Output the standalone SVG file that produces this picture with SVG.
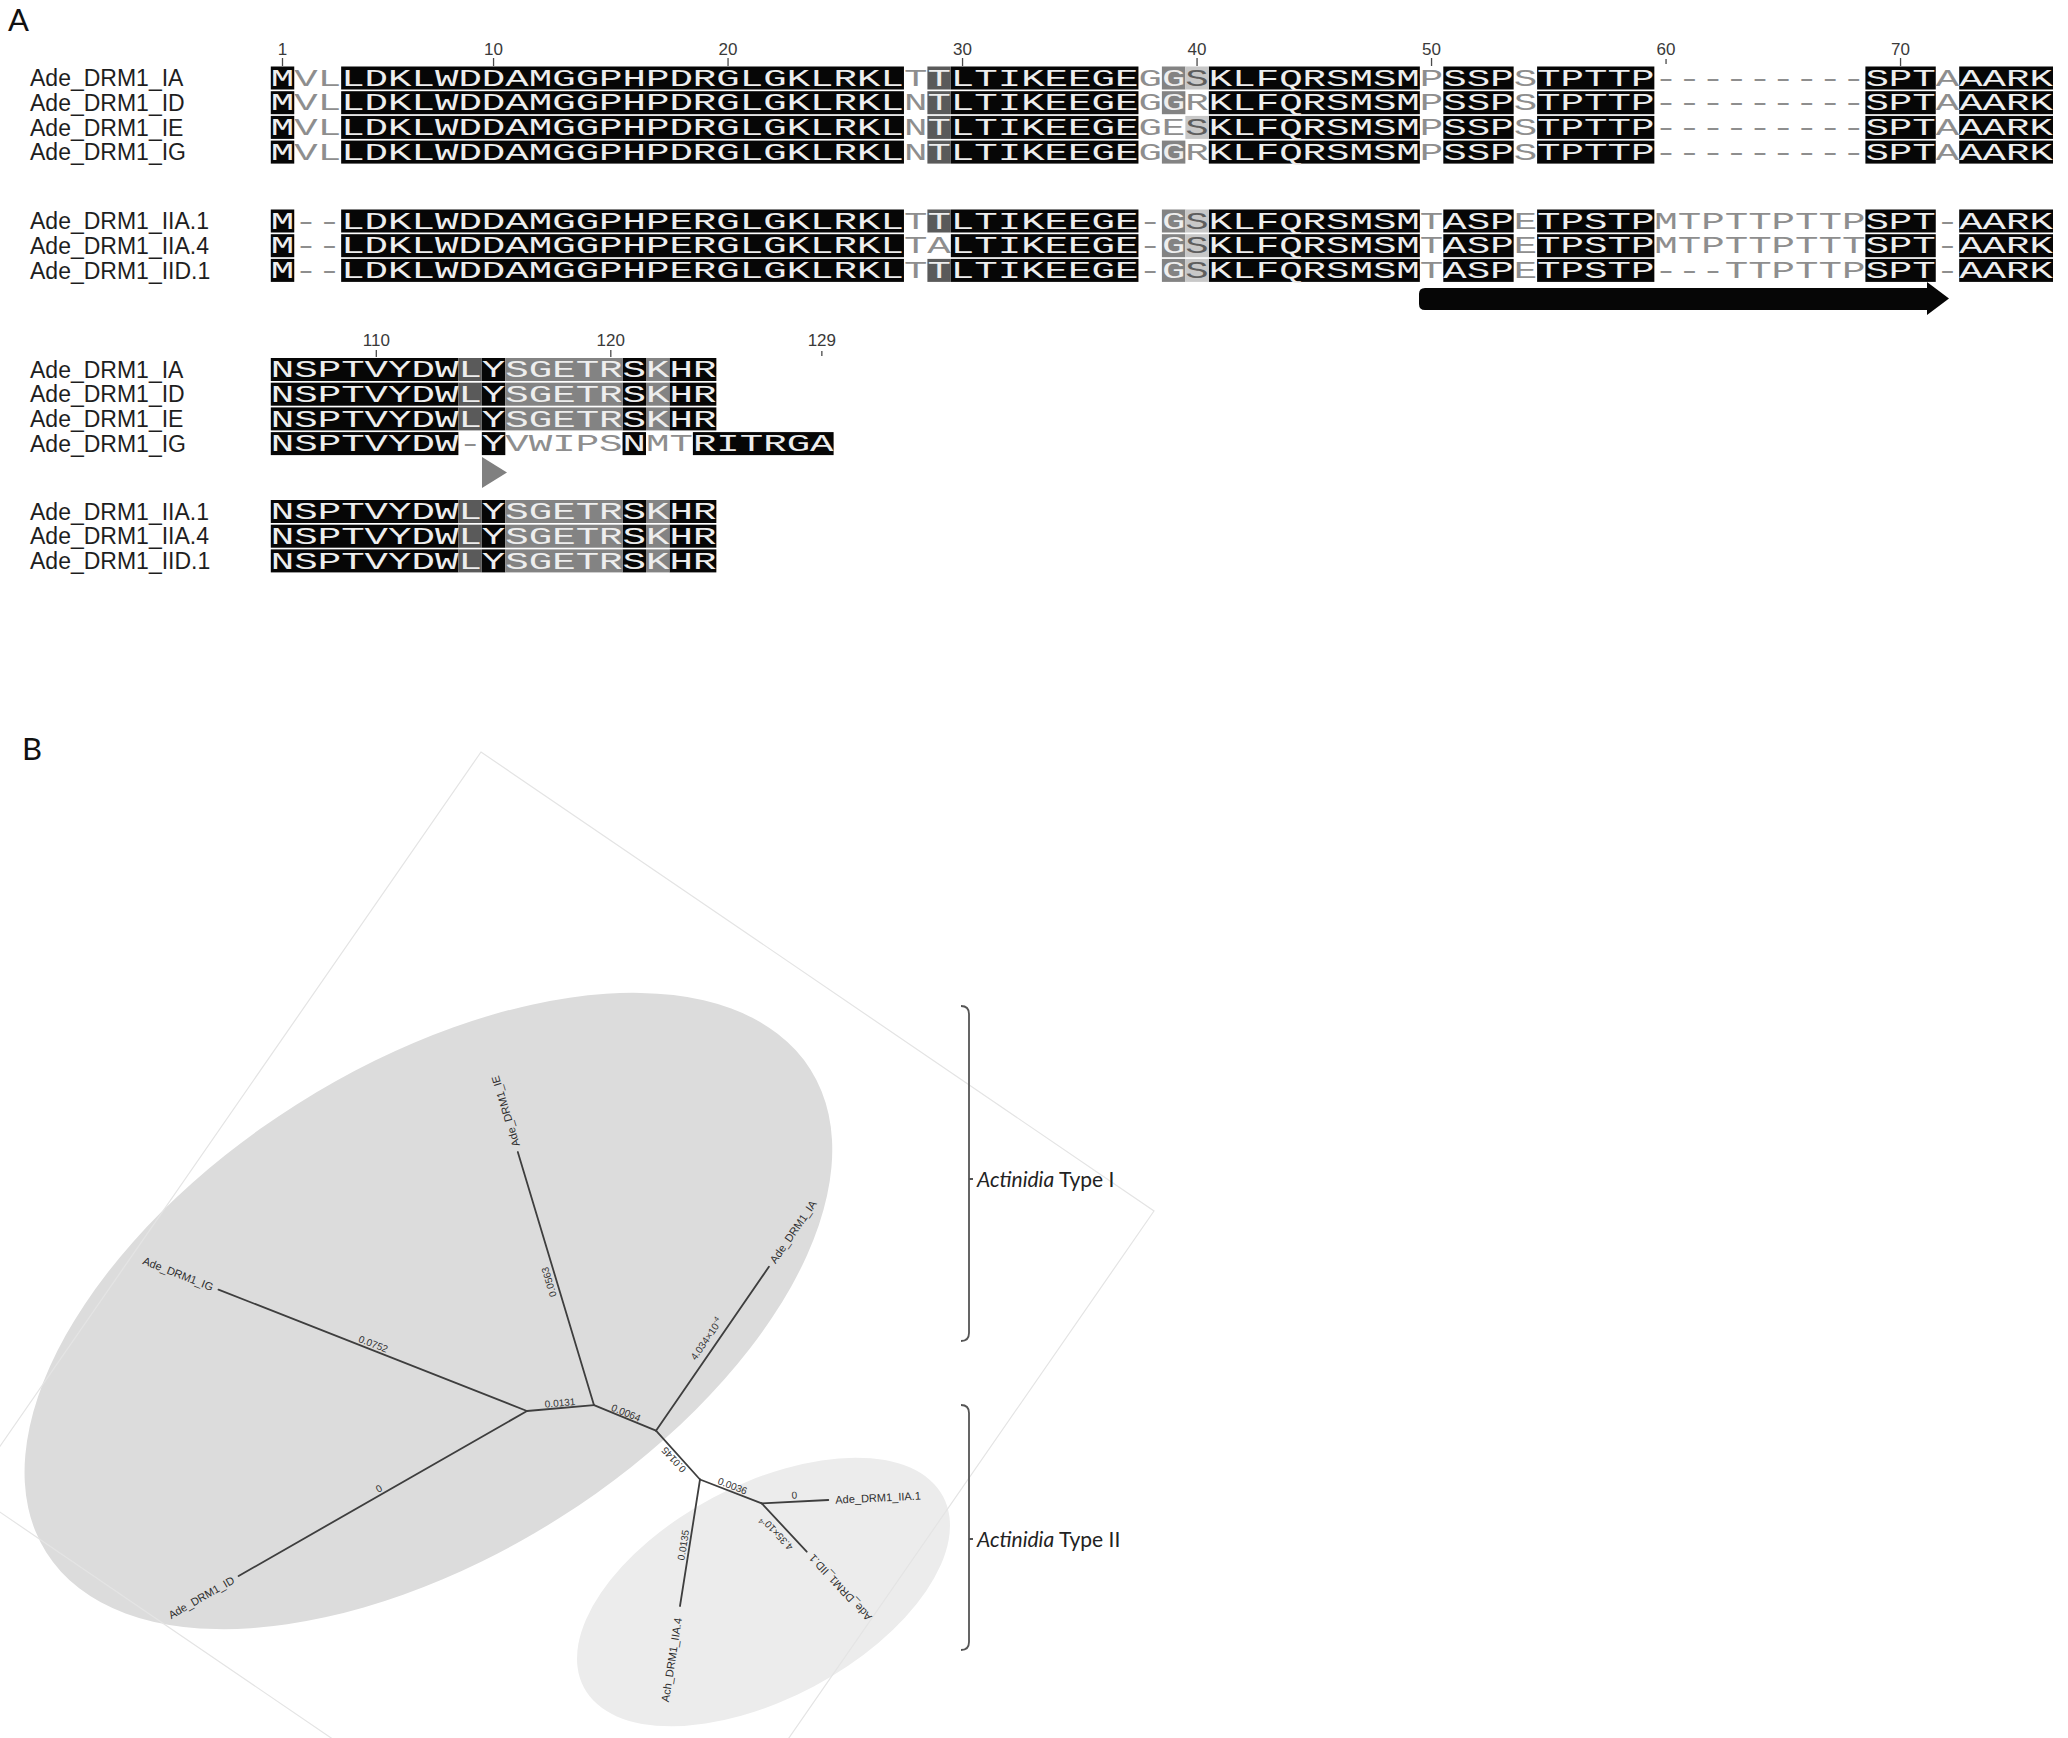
<svg xmlns="http://www.w3.org/2000/svg" width="2068" height="1738" viewBox="0 0 2068 1738">
<style>
.nm{font-family:"Liberation Sans",Arial,sans-serif;font-size:23px;fill:#1e1e1e}
.sq{font-family:"Liberation Mono","DejaVu Sans Mono",monospace;font-size:23px}
.w{fill:#eeeeee}
.n{fill:#8e8e8e}
.k{fill:#5e5e5e}
.bk{fill:#060606}
.dg{fill:#5a5a5a}
.gr{fill:#838383}
.lg{fill:#c8c8c8}
.tk{font-family:"Liberation Sans",Arial,sans-serif;font-size:17px;fill:#3a3a3a;text-anchor:middle}
.tm{stroke:#4a4a4a;stroke-width:1.3}
.pl{font-family:Lato,"Liberation Sans",sans-serif;font-size:31px;fill:#111}
.lf{font-family:"Liberation Sans",Arial,sans-serif;font-size:11px;fill:#2e2e2e;dominant-baseline:central}
.bl{font-family:"Liberation Sans",Arial,sans-serif;font-size:10px;fill:#333;text-anchor:middle;dominant-baseline:central}
.grp{font-family:Lato,"Open Sans",sans-serif;font-size:21px;fill:#222}
.bkt{fill:none;stroke:#555;stroke-width:1.8}
</style>
<defs>
<g id="bkRow" class="bk">
<rect x="270.8" y="-11.5" width="23.45" height="23"/>
<rect x="341.15" y="-11.5" width="562.8" height="23"/>
<rect x="950.85" y="-11.5" width="187.6" height="23"/>
<rect x="1208.8" y="-11.5" width="211.05" height="23"/>
<rect x="1443.3" y="-11.5" width="70.35" height="23"/>
<rect x="1537.1" y="-11.5" width="117.25" height="23"/>
<rect x="1865.4" y="-11.5" width="70.35" height="23"/>
<rect x="1959.2" y="-11.5" width="93.8" height="23"/>
</g>
<rect id="c29" class="dg" x="927.4" y="-11.5" width="23.45" height="23"/>
<rect id="c39" class="gr" x="1161.9" y="-11.5" width="23.45" height="23"/>
<rect id="c40" class="lg" x="1185.35" y="-11.5" width="23.45" height="23"/>
<text id="kS" class="sq k" x="1185.35" y="7.6" textLength="23.45" lengthAdjust="spacingAndGlyphs">S</text>
<g id="wI" class="sq w">
<text x="270.8" y="7.6" textLength="23.45" lengthAdjust="spacingAndGlyphs">M</text>
<text x="341.15" y="7.6" textLength="562.8" lengthAdjust="spacingAndGlyphs">LDKLWDDAMGGPHPDRGLGKLRKL</text>
<text x="927.4" y="7.6" textLength="211.05" lengthAdjust="spacingAndGlyphs">TLTIKEEGE</text>
<text x="1161.9" y="7.6" textLength="23.45" lengthAdjust="spacingAndGlyphs">G</text>
<text x="1208.8" y="7.6" textLength="211.05" lengthAdjust="spacingAndGlyphs">KLFQRSMSM</text>
<text x="1443.3" y="7.6" textLength="70.35" lengthAdjust="spacingAndGlyphs">SSP</text>
<text x="1537.1" y="7.6" textLength="117.25" lengthAdjust="spacingAndGlyphs">TPTTP</text>
<text x="1865.4" y="7.6" textLength="70.35" lengthAdjust="spacingAndGlyphs">SPT</text>
<text x="1959.2" y="7.6" textLength="93.8" lengthAdjust="spacingAndGlyphs">AARK</text>
</g>
<g id="wIE" class="sq w">
<text x="270.8" y="7.6" textLength="23.45" lengthAdjust="spacingAndGlyphs">M</text>
<text x="341.15" y="7.6" textLength="562.8" lengthAdjust="spacingAndGlyphs">LDKLWDDAMGGPHPDRGLGKLRKL</text>
<text x="927.4" y="7.6" textLength="211.05" lengthAdjust="spacingAndGlyphs">TLTIKEEGE</text>
<text x="1208.8" y="7.6" textLength="211.05" lengthAdjust="spacingAndGlyphs">KLFQRSMSM</text>
<text x="1443.3" y="7.6" textLength="70.35" lengthAdjust="spacingAndGlyphs">SSP</text>
<text x="1537.1" y="7.6" textLength="117.25" lengthAdjust="spacingAndGlyphs">TPTTP</text>
<text x="1865.4" y="7.6" textLength="70.35" lengthAdjust="spacingAndGlyphs">SPT</text>
<text x="1959.2" y="7.6" textLength="93.8" lengthAdjust="spacingAndGlyphs">AARK</text>
</g>
<g id="wII" class="sq w">
<text x="270.8" y="7.6" textLength="23.45" lengthAdjust="spacingAndGlyphs">M</text>
<text x="341.15" y="7.6" textLength="562.8" lengthAdjust="spacingAndGlyphs">LDKLWDDAMGGPHPERGLGKLRKL</text>
<text x="927.4" y="7.6" textLength="211.05" lengthAdjust="spacingAndGlyphs">TLTIKEEGE</text>
<text x="1161.9" y="7.6" textLength="23.45" lengthAdjust="spacingAndGlyphs">G</text>
<text x="1208.8" y="7.6" textLength="211.05" lengthAdjust="spacingAndGlyphs">KLFQRSMSM</text>
<text x="1443.3" y="7.6" textLength="70.35" lengthAdjust="spacingAndGlyphs">ASP</text>
<text x="1537.1" y="7.6" textLength="117.25" lengthAdjust="spacingAndGlyphs">TPSTP</text>
<text x="1865.4" y="7.6" textLength="70.35" lengthAdjust="spacingAndGlyphs">SPT</text>
<text x="1959.2" y="7.6" textLength="93.8" lengthAdjust="spacingAndGlyphs">AARK</text>
</g>
<g id="wIIA4" class="sq w">
<text x="270.8" y="7.6" textLength="23.45" lengthAdjust="spacingAndGlyphs">M</text>
<text x="341.15" y="7.6" textLength="562.8" lengthAdjust="spacingAndGlyphs">LDKLWDDAMGGPHPERGLGKLRKL</text>
<text x="950.85" y="7.6" textLength="187.6" lengthAdjust="spacingAndGlyphs">LTIKEEGE</text>
<text x="1161.9" y="7.6" textLength="23.45" lengthAdjust="spacingAndGlyphs">G</text>
<text x="1208.8" y="7.6" textLength="211.05" lengthAdjust="spacingAndGlyphs">KLFQRSMSM</text>
<text x="1443.3" y="7.6" textLength="70.35" lengthAdjust="spacingAndGlyphs">ASP</text>
<text x="1537.1" y="7.6" textLength="117.25" lengthAdjust="spacingAndGlyphs">TPSTP</text>
<text x="1865.4" y="7.6" textLength="70.35" lengthAdjust="spacingAndGlyphs">SPT</text>
<text x="1959.2" y="7.6" textLength="93.8" lengthAdjust="spacingAndGlyphs">AARK</text>
</g>
<g id="bk2" class="bk">
<rect x="270.8" y="-11.5" width="187.6" height="23"/>
<rect x="481.85" y="-11.5" width="23.45" height="23"/>
<rect x="622.55" y="-11.5" width="23.45" height="23"/>
<rect x="669.45" y="-11.5" width="46.9" height="23"/>
</g>
<g id="sh2">
<rect class="dg" x="458.4" y="-11.5" width="23.45" height="23"/>
<rect class="gr" x="505.3" y="-11.5" width="117.25" height="23"/>
<rect class="gr" x="646" y="-11.5" width="23.45" height="23"/>
</g>
<text id="w2" class="sq w" x="270.8" y="7.6" textLength="445.55" lengthAdjust="spacingAndGlyphs">NSPTVYDWLYSGETRSKHR</text>
</defs>

<rect width="2068" height="1738" fill="#ffffff"/>

<g id="panel-A">
<text class="pl" x="8" y="31">A</text>

<g id="ruler-1">
<g class="tm">
<line x1="282.5" y1="58" x2="282.5" y2="66"/>
<line x1="493.55" y1="58" x2="493.55" y2="66"/>
<line x1="728.05" y1="58" x2="728.05" y2="66"/>
<line x1="962.55" y1="58" x2="962.55" y2="66"/>
<line x1="1197.05" y1="58" x2="1197.05" y2="66"/>
<line x1="1431.55" y1="58" x2="1431.55" y2="66"/>
<line x1="1666.05" y1="59" x2="1666.05" y2="64"/>
<line x1="1900.55" y1="58" x2="1900.55" y2="66"/>
</g>
<text class="tk" x="282.5" y="55">1</text>
<text class="tk" x="493.55" y="55">10</text>
<text class="tk" x="728.05" y="55">20</text>
<text class="tk" x="962.55" y="55">30</text>
<text class="tk" x="1197.05" y="55">40</text>
<text class="tk" x="1431.55" y="55">50</text>
<text class="tk" x="1666.05" y="55">60</text>
<text class="tk" x="1900.55" y="55">70</text>
</g>

<g id="seq1-IA">
<text class="nm" x="30" y="86.2">Ade_DRM1_IA</text>
<use href="#bkRow" y="78"/><use href="#c29" y="78"/><use href="#c39" y="78"/><use href="#c40" y="78"/>
<use href="#wI" y="78"/><use href="#kS" y="78"/>
<g class="sq n">
<text x="294.25" y="85.6" textLength="46.9" lengthAdjust="spacingAndGlyphs">VL</text>
<text x="903.95" y="85.6" textLength="23.45" lengthAdjust="spacingAndGlyphs">T</text>
<text x="1138.45" y="85.6" textLength="23.45" lengthAdjust="spacingAndGlyphs">G</text>
<text x="1419.85" y="85.6" textLength="23.45" lengthAdjust="spacingAndGlyphs">P</text>
<text x="1513.65" y="85.6" textLength="23.45" lengthAdjust="spacingAndGlyphs">S</text>
<text x="1654.35" y="85.6" textLength="211.05" lengthAdjust="spacingAndGlyphs">---------</text>
<text x="1935.75" y="85.6" textLength="23.45" lengthAdjust="spacingAndGlyphs">A</text>
</g>
</g>

<g id="seq1-ID">
<text class="nm" x="30" y="110.9">Ade_DRM1_ID</text>
<use href="#bkRow" y="102.7"/><use href="#c29" y="102.7"/><use href="#c39" y="102.7"/>
<use href="#wI" y="102.7"/>
<g class="sq n">
<text x="294.25" y="110.3" textLength="46.9" lengthAdjust="spacingAndGlyphs">VL</text>
<text x="903.95" y="110.3" textLength="23.45" lengthAdjust="spacingAndGlyphs">N</text>
<text x="1138.45" y="110.3" textLength="23.45" lengthAdjust="spacingAndGlyphs">G</text>
<text x="1185.35" y="110.3" textLength="23.45" lengthAdjust="spacingAndGlyphs">R</text>
<text x="1419.85" y="110.3" textLength="23.45" lengthAdjust="spacingAndGlyphs">P</text>
<text x="1513.65" y="110.3" textLength="23.45" lengthAdjust="spacingAndGlyphs">S</text>
<text x="1654.35" y="110.3" textLength="211.05" lengthAdjust="spacingAndGlyphs">---------</text>
<text x="1935.75" y="110.3" textLength="23.45" lengthAdjust="spacingAndGlyphs">A</text>
</g>
</g>

<g id="seq1-IE">
<text class="nm" x="30" y="135.6">Ade_DRM1_IE</text>
<use href="#bkRow" y="127.4"/><use href="#c29" y="127.4"/><use href="#c40" y="127.4"/>
<use href="#wIE" y="127.4"/><use href="#kS" y="127.4"/>
<g class="sq n">
<text x="294.25" y="135" textLength="46.9" lengthAdjust="spacingAndGlyphs">VL</text>
<text x="903.95" y="135" textLength="23.45" lengthAdjust="spacingAndGlyphs">N</text>
<text x="1138.45" y="135" textLength="46.9" lengthAdjust="spacingAndGlyphs">GE</text>
<text x="1419.85" y="135" textLength="23.45" lengthAdjust="spacingAndGlyphs">P</text>
<text x="1513.65" y="135" textLength="23.45" lengthAdjust="spacingAndGlyphs">S</text>
<text x="1654.35" y="135" textLength="211.05" lengthAdjust="spacingAndGlyphs">---------</text>
<text x="1935.75" y="135" textLength="23.45" lengthAdjust="spacingAndGlyphs">A</text>
</g>
</g>

<g id="seq1-IG">
<text class="nm" x="30" y="160.3">Ade_DRM1_IG</text>
<use href="#bkRow" y="152.1"/><use href="#c29" y="152.1"/><use href="#c39" y="152.1"/>
<use href="#wI" y="152.1"/>
<g class="sq n">
<text x="294.25" y="159.7" textLength="46.9" lengthAdjust="spacingAndGlyphs">VL</text>
<text x="903.95" y="159.7" textLength="23.45" lengthAdjust="spacingAndGlyphs">N</text>
<text x="1138.45" y="159.7" textLength="23.45" lengthAdjust="spacingAndGlyphs">G</text>
<text x="1185.35" y="159.7" textLength="23.45" lengthAdjust="spacingAndGlyphs">R</text>
<text x="1419.85" y="159.7" textLength="23.45" lengthAdjust="spacingAndGlyphs">P</text>
<text x="1513.65" y="159.7" textLength="23.45" lengthAdjust="spacingAndGlyphs">S</text>
<text x="1654.35" y="159.7" textLength="211.05" lengthAdjust="spacingAndGlyphs">---------</text>
<text x="1935.75" y="159.7" textLength="23.45" lengthAdjust="spacingAndGlyphs">A</text>
</g>
</g>

<g id="seq1-IIA1">
<text class="nm" x="30" y="229.2">Ade_DRM1_IIA.1</text>
<use href="#bkRow" y="221"/><use href="#c29" y="221"/><use href="#c39" y="221"/><use href="#c40" y="221"/>
<use href="#wII" y="221"/><use href="#kS" y="221"/>
<g class="sq n">
<text x="294.25" y="228.6" textLength="46.9" lengthAdjust="spacingAndGlyphs">--</text>
<text x="903.95" y="228.6" textLength="23.45" lengthAdjust="spacingAndGlyphs">T</text>
<text x="1138.45" y="228.6" textLength="23.45" lengthAdjust="spacingAndGlyphs">-</text>
<text x="1419.85" y="228.6" textLength="23.45" lengthAdjust="spacingAndGlyphs">T</text>
<text x="1513.65" y="228.6" textLength="23.45" lengthAdjust="spacingAndGlyphs">E</text>
<text x="1654.35" y="228.6" textLength="211.05" lengthAdjust="spacingAndGlyphs">MTPTTPTTP</text>
<text x="1935.75" y="228.6" textLength="23.45" lengthAdjust="spacingAndGlyphs">-</text>
</g>
</g>

<g id="seq1-IIA4">
<text class="nm" x="30" y="253.9">Ade_DRM1_IIA.4</text>
<use href="#bkRow" y="245.7"/><use href="#c39" y="245.7"/><use href="#c40" y="245.7"/>
<use href="#wIIA4" y="245.7"/><use href="#kS" y="245.7"/>
<g class="sq n">
<text x="294.25" y="253.3" textLength="46.9" lengthAdjust="spacingAndGlyphs">--</text>
<text x="903.95" y="253.3" textLength="46.9" lengthAdjust="spacingAndGlyphs">TA</text>
<text x="1138.45" y="253.3" textLength="23.45" lengthAdjust="spacingAndGlyphs">-</text>
<text x="1419.85" y="253.3" textLength="23.45" lengthAdjust="spacingAndGlyphs">T</text>
<text x="1513.65" y="253.3" textLength="23.45" lengthAdjust="spacingAndGlyphs">E</text>
<text x="1654.35" y="253.3" textLength="211.05" lengthAdjust="spacingAndGlyphs">MTPTTPTTT</text>
<text x="1935.75" y="253.3" textLength="23.45" lengthAdjust="spacingAndGlyphs">-</text>
</g>
</g>

<g id="seq1-IID1">
<text class="nm" x="30" y="278.6">Ade_DRM1_IID.1</text>
<use href="#bkRow" y="270.4"/><use href="#c29" y="270.4"/><use href="#c39" y="270.4"/><use href="#c40" y="270.4"/>
<use href="#wII" y="270.4"/><use href="#kS" y="270.4"/>
<g class="sq n">
<text x="294.25" y="278" textLength="46.9" lengthAdjust="spacingAndGlyphs">--</text>
<text x="903.95" y="278" textLength="23.45" lengthAdjust="spacingAndGlyphs">T</text>
<text x="1138.45" y="278" textLength="23.45" lengthAdjust="spacingAndGlyphs">-</text>
<text x="1419.85" y="278" textLength="23.45" lengthAdjust="spacingAndGlyphs">T</text>
<text x="1513.65" y="278" textLength="23.45" lengthAdjust="spacingAndGlyphs">E</text>
<text x="1654.35" y="278" textLength="211.05" lengthAdjust="spacingAndGlyphs">---TTPTTP</text>
<text x="1935.75" y="278" textLength="23.45" lengthAdjust="spacingAndGlyphs">-</text>
</g>
</g>

<path id="motif-arrow" class="bk" d="M1425,288 H1927 V282 L1949,298.5 L1927,315 V310 H1425 Q1419,310 1419,304 V294 Q1419,288 1425,288 Z"/>

<g id="ruler-2">
<g class="tm">
<line x1="376.3" y1="350" x2="376.3" y2="357"/>
<line x1="610.8" y1="350" x2="610.8" y2="357"/>
<line x1="821.85" y1="351" x2="821.85" y2="356"/>
</g>
<text class="tk" x="376.3" y="346">110</text>
<text class="tk" x="610.8" y="346">120</text>
<text class="tk" x="821.85" y="346">129</text>
</g>

<g id="seq2-IA">
<text class="nm" x="30" y="377.7">Ade_DRM1_IA</text>
<use href="#bk2" y="369.5"/><use href="#sh2" y="369.5"/><use href="#w2" y="369.5"/>
</g>
<g id="seq2-ID">
<text class="nm" x="30" y="402.4">Ade_DRM1_ID</text>
<use href="#bk2" y="394.2"/><use href="#sh2" y="394.2"/><use href="#w2" y="394.2"/>
</g>
<g id="seq2-IE">
<text class="nm" x="30" y="427.1">Ade_DRM1_IE</text>
<use href="#bk2" y="418.9"/><use href="#sh2" y="418.9"/><use href="#w2" y="418.9"/>
</g>
<g id="seq2-IG">
<text class="nm" x="30" y="451.8">Ade_DRM1_IG</text>
<g class="bk">
<rect x="270.8" y="432.1" width="187.6" height="23"/>
<rect x="481.85" y="432.1" width="23.45" height="23"/>
<rect x="622.55" y="432.1" width="23.45" height="23"/>
<rect x="692.9" y="432.1" width="140.7" height="23"/>
</g>
<g class="sq w">
<text x="270.8" y="451.2" textLength="187.6" lengthAdjust="spacingAndGlyphs">NSPTVYDW</text>
<text x="481.85" y="451.2" textLength="23.45" lengthAdjust="spacingAndGlyphs">Y</text>
<text x="622.55" y="451.2" textLength="23.45" lengthAdjust="spacingAndGlyphs">N</text>
<text x="692.9" y="451.2" textLength="140.7" lengthAdjust="spacingAndGlyphs">RITRGA</text>
</g>
<g class="sq n">
<text x="458.4" y="451.2" textLength="23.45" lengthAdjust="spacingAndGlyphs">-</text>
<text x="505.3" y="451.2" textLength="117.25" lengthAdjust="spacingAndGlyphs">VWIPS</text>
<text x="646" y="451.2" textLength="46.9" lengthAdjust="spacingAndGlyphs">MT</text>
</g>
</g>
<path id="stop-marker" d="M482,457 L507,472.5 L482,488 Z" fill="#808080"/>
<g id="seq2-IIA1">
<text class="nm" x="30" y="519.7">Ade_DRM1_IIA.1</text>
<use href="#bk2" y="511.5"/><use href="#sh2" y="511.5"/><use href="#w2" y="511.5"/>
</g>
<g id="seq2-IIA4">
<text class="nm" x="30" y="544.4">Ade_DRM1_IIA.4</text>
<use href="#bk2" y="536.2"/><use href="#sh2" y="536.2"/><use href="#w2" y="536.2"/>
</g>
<g id="seq2-IID1">
<text class="nm" x="30" y="569.1">Ade_DRM1_IID.1</text>
<use href="#bk2" y="560.9"/><use href="#sh2" y="560.9"/><use href="#w2" y="560.9"/>
</g>
</g>

<g id="panel-B">
<text class="pl" x="22" y="760">B</text>
<ellipse id="clade-I-area" cx="428.4" cy="1311" rx="452" ry="245" transform="rotate(-32.3 428.4 1311)" fill="#dcdcdc"/>
<ellipse id="clade-II-area" cx="763.5" cy="1592" rx="203.4" ry="107" transform="rotate(-28 763.5 1592)" fill="#ececec"/>
<polygon points="481,752 1154,1211 642,1950 -31,1491" fill="none" stroke="#e4e4e4" stroke-width="1.2"/>

<g id="branches" stroke="#3e3e3e" stroke-width="1.8" fill="none" stroke-linecap="round">
<line x1="527" y1="1411" x2="218.5" y2="1289.6"/>
<line x1="527" y1="1411" x2="238.6" y2="1576"/>
<line x1="527" y1="1411" x2="594" y2="1405.2"/>
<line x1="594" y1="1405.2" x2="517.8" y2="1152"/>
<line x1="594" y1="1405.2" x2="656" y2="1430.7"/>
<line x1="656" y1="1430.7" x2="768.9" y2="1266.8"/>
<line x1="656" y1="1430.7" x2="700" y2="1479.5"/>
<line x1="700" y1="1479.5" x2="680" y2="1606"/>
<line x1="700" y1="1479.5" x2="761.7" y2="1503.3"/>
<line x1="761.7" y1="1503.3" x2="828.3" y2="1500"/>
<line x1="761.7" y1="1503.3" x2="806.7" y2="1551.7"/>
</g>

<g id="branch-lengths">
<text class="bl" x="373.3" y="1344" transform="rotate(21.5 373.3 1344)">0.0752</text>
<text class="bl" x="560" y="1403" transform="rotate(-5.1 560 1403)">0.0131</text>
<text class="bl" x="626" y="1412.8" transform="rotate(22.4 626 1412.8)">0.0064</text>
<text class="bl" x="549" y="1282" transform="rotate(-106.8 549 1282)">0.0563</text>
<text class="bl" x="706.5" y="1339" transform="rotate(-55.4 706.5 1339)">4.034×10<tspan font-size="7" dy="-4">-4</tspan></text>
<text class="bl" x="379" y="1488.6" transform="rotate(-29.8 379 1488.6)">0</text>
<text class="bl" x="673.8" y="1459.7" transform="rotate(-132.3 673.8 1459.7)">0.0145</text>
<text class="bl" x="732.5" y="1486.1" transform="rotate(21.1 732.5 1486.1)">0.0036</text>
<text class="bl" x="794.3" y="1495" transform="rotate(-2.8 794.3 1495)">0</text>
<text class="bl" x="776.7" y="1533.3" transform="rotate(-132.9 776.7 1533.3)">4.35×10<tspan font-size="7" dy="-4">-4</tspan></text>
<text class="bl" x="683.3" y="1545" transform="rotate(-81 683.3 1545)">0.0135</text>
</g>

<g id="leaf-IG"><text class="lf" x="212.9" y="1287.4" text-anchor="end" transform="rotate(21.5 212.9 1287.4)">Ade_DRM1_IG</text></g>
<g id="leaf-ID"><text class="lf" x="233.4" y="1579" text-anchor="end" transform="rotate(-29.8 233.4 1579)">Ade_DRM1_ID</text></g>
<g id="leaf-IE"><text class="lf" x="516.1" y="1146.3" transform="rotate(-106.8 516.1 1146.3)">Ade_DRM1_IE</text></g>
<g id="leaf-IA"><text class="lf" x="772.3" y="1261.9" transform="rotate(-55.4 772.3 1261.9)">Ade_DRM1_IA</text></g>
<g id="leaf-IIA1"><text class="lf" x="835.3" y="1499.7" transform="rotate(-2.8 835.3 1499.7)">Ade_DRM1_IIA.1</text></g>
<g id="leaf-IID1"><text class="lf" x="810.8" y="1556.1" text-anchor="end" transform="rotate(-132.9 810.8 1556.1)">Ade_DRM1_IID.1</text></g>
<g id="leaf-IIA4"><text class="lf" x="678.1" y="1617.9" text-anchor="end" transform="rotate(-81 678.1 1617.9)">Ach_DRM1_IIA.4</text></g>

<g id="clade-type-I">
<path class="bkt" d="M961,1006 Q969,1006 969,1014 V1333 Q969,1341 961,1341 M969,1179 H973"/>
<text class="grp" x="977" y="1186.5"><tspan font-style="italic">Actinidia</tspan> Type I</text>
</g>
<g id="clade-type-II">
<path class="bkt" d="M961,1405 Q969,1405 969,1413 V1642 Q969,1650 961,1650 M969,1539 H973"/>
<text class="grp" x="977" y="1546.5"><tspan font-style="italic">Actinidia</tspan> Type II</text>
</g>
</g>
</svg>
